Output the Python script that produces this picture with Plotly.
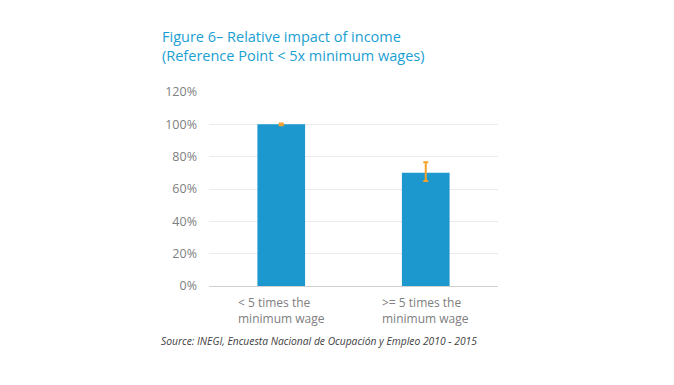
import plotly.graph_objects as go

categories = ["< 5 times the<br>minimum wage", ">= 5 times the<br>minimum wage"]
values = [100, 70]
err_plus = [0.5, 6.5]
err_minus = [0.5, 5]
y_ticks = [0, 20, 40, 60, 80, 100, 120]
y_tick_labels = ["0%", "20%", "40%", "60%", "80%", "100%", "120%"]

title_text = "Figure 6– Relative impact of income<br>(Reference Point < 5x minimum wages)"
source_text = "Source: INEGI, Encuesta Nacional de Ocupación y Empleo 2010 - 2015"

# page body has an 8px margin; figure sized to compensate
W, H = 666, 377
L, R, T, B = 201, 176, 84, 99

fig = go.Figure()
fig.add_trace(go.Bar(
    x=categories, y=values, width=0.33,
    marker=dict(color="#1C98CE", line=dict(width=0)),
    error_y=dict(type="data", symmetric=False, array=err_plus, arrayminus=err_minus,
                 color="#F5A12A", thickness=2, width=2.5),
))

for c in categories:
    fig.add_annotation(x=c, y=0, xref="x", yref="y", yanchor="top", yshift=-6,
                       text=c, showarrow=False, align="left",
                       font=dict(family="Open Sans", size=12, color="#808080"))

fig.update_layout(
    width=W, height=H,
    margin=dict(l=L, r=R, t=T, b=B),
    paper_bgcolor="white", plot_bgcolor="white",
    showlegend=False,
    font=dict(family="Open Sans", color="#808080"),
    xaxis=dict(showticklabels=False, showgrid=False, zeroline=False,
               showline=False, ticks="", range=[-0.5, 1.5]),
    yaxis=dict(range=[0, 120], tickvals=y_ticks, ticktext=y_tick_labels,
               showgrid=True, gridcolor="#EBEBEB", gridwidth=1,
               zeroline=True, zerolinecolor="#D0D0D0", zerolinewidth=1,
               tickfont=dict(size=12.5, color="#808080"), ticks="", ticklabelstandoff=11),
)

pw = W - L - R
ph = H - T - B
def px_x(x):
    return (x - L) / pw
def px_y(y):
    return (H - B - y) / ph

fig.add_annotation(x=px_x(152), y=px_y(17), xref="paper", yref="paper",
                   xanchor="left", yanchor="top", align="left", showarrow=False,
                   text=title_text,
                   font=dict(family="Open Sans", size=14.5, color="#1AA0D3"))
fig.add_annotation(x=px_x(151), y=px_y(333), xref="paper", yref="paper",
                   xanchor="left", yanchor="middle", align="left", showarrow=False,
                   text="<i>" + source_text + "</i>",
                   font=dict(family="Open Sans", size=10.3, color="#404040"))

fig.write_html("out.html")
